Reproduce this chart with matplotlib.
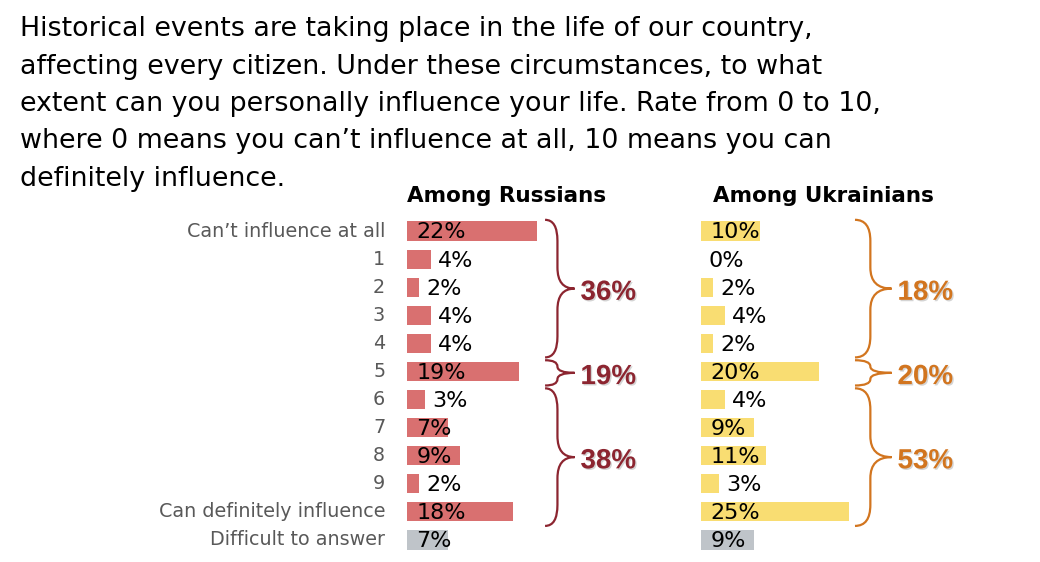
import matplotlib.pyplot as plt
from matplotlib.path import Path
from matplotlib.patches import PathPatch
import matplotlib.patheffects as pe

# Data
categories = ["Can\u2019t influence at all", "1", "2", "3", "4", "5", "6", "7", "8", "9",
              "Can definitely influence", "Difficult to answer"]
russians = [22, 4, 2, 4, 4, 19, 3, 7, 9, 2, 18, 7]
ukrainians = [10, 0, 2, 4, 2, 20, 4, 9, 11, 3, 25, 9]
groups = [(0, 4), (5, 5), (6, 10)]  # rows covered by each brace
ru_totals = ["36%", "19%", "38%"]
ua_totals = ["18%", "20%", "53%"]

title_lines = ["Historical events are taking place in the life of our country,",
               "affecting every citizen. Under these circumstances, to what",
               "extent can you personally influence your life. Rate from 0 to 10,",
               "where 0 means you can\u2019t influence at all, 10 means you can",
               "definitely influence."]

RED = "#d97070"
YEL = "#f9dd72"
GRAY = "#bfc4c9"
RED_DARK = "#8c2530"
ORANGE = "#d2751f"

W, H = 1040, 562
fig = plt.figure(figsize=(W / 100, H / 100), dpi=100)

# title, one line at a time
for i, line in enumerate(title_lines):
    fig.text(20 / W, 1 - (29 + 37.5 * i) / H, line, ha="left", va="center",
             fontsize=19.4, color="black")

PX = 5.9  # pixels per percent
n = len(categories)


def make_axes(x0_px):
    width = 36 * PX
    ax = fig.add_axes([x0_px / W, 1 - 554 / H, width / W, (554 - 217) / H])
    ax.set_xlim(0, 36)
    ax.set_ylim(n - 0.5, -0.5)
    ax.axis("off")
    return ax


def brace(ax, r0, r1, x0, w, color):
    y0, y1 = r0 - 0.4, r1 + 0.5
    ym = (y0 + y1) / 2
    xm = x0 + 0.42 * w
    xt = x0 + w
    r = min(0.75, (y1 - y0) / 4)
    verts = [(x0, y0), (xm, y0), (xm, y0 + r),
             (xm, ym - r),
             (xm, ym), (xt, ym),
             (xm, ym), (xm, ym + r),
             (xm, y1 - r),
             (xm, y1), (x0, y1)]
    codes = [Path.MOVETO, Path.CURVE3, Path.CURVE3,
             Path.LINETO,
             Path.CURVE3, Path.CURVE3,
             Path.CURVE3, Path.CURVE3,
             Path.LINETO,
             Path.CURVE3, Path.CURVE3]
    ax.add_patch(PathPatch(Path(verts, codes), fill=False, edgecolor=color,
                           lw=1.6, clip_on=False))
    return xt, ym


def panel(x0_px, values, color, header, totals, tcolor, bx, bw, hx):
    ax = make_axes(x0_px)
    cols = [color] * (n - 1) + [GRAY]
    ax.barh(range(n), values, height=0.68, color=cols)
    for i, v in enumerate(values):
        x = v + 1.2 if v < 7 else 1.6
        ax.text(x, i + 0.05, f"{v}%", ha="left", va="center", fontsize=16,
                color="black")
    ax.text(hx, -1.25, header, ha="center", va="center", fontsize=15.5,
            fontweight="bold", clip_on=False)
    for (r0, r1), t in zip(groups, totals):
        xt, ym = brace(ax, r0, r1, bx, bw, tcolor)
        ax.text(xt + 1.0, ym + 0.15, t, ha="left", va="center", fontsize=20,
                fontweight="bold", color=tcolor, family="Liberation Sans",
                path_effects=[pe.withSimplePatchShadow(offset=(1.0, -1.0),
                                                       shadow_rgbFace="#aaaaaa",
                                                       alpha=0.5)])
    return ax


ax1 = panel(407, russians, RED, "Among Russians", ru_totals, RED_DARK, 23.4, 5.0, 16.8)
ax2 = panel(701, ukrainians, YEL, "Among Ukrainians", ua_totals, ORANGE, 26.1, 6.2, 20.8)

for i, c in enumerate(categories):
    ax1.text(-3.7, i, c, ha="right", va="center", fontsize=13.8, color="#595959")

fig.savefig("out.png", dpi=100)
